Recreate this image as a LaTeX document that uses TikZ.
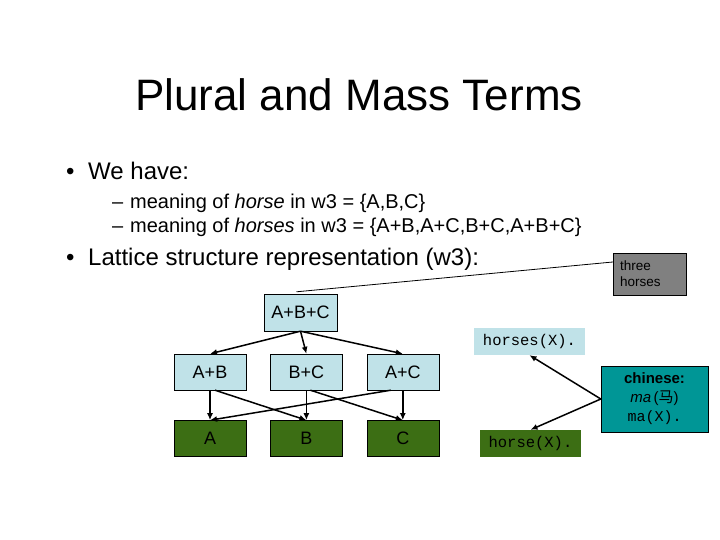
\documentclass[tikz,border=0pt]{standalone}
\usepackage{fontspec}
\setmainfont{Liberation Sans}
\setmonofont{Liberation Mono}
\newfontfamily\cjk{Noto Sans CJK SC}
\usetikzlibrary{arrows.meta,positioning}
\definecolor{latblue}{RGB}{192,226,232}
\definecolor{latgreen}{RGB}{60,110,20}
\definecolor{notegray}{RGB}{128,128,128}
\definecolor{chteal}{RGB}{0,150,150}

\begin{document}
\begin{tikzpicture}[x=1pt,y=-1pt,
  sumbox/.style={draw=black,fill=latblue,minimum width=72pt,minimum height=36pt,inner sep=0pt,font=\fontsize{18}{20}\selectfont},
  atombox/.style={sumbox,fill=latgreen},
  predbox/.style={inner sep=0pt,minimum height=27pt,font=\ttfamily\fontsize{15.5}{17}\selectfont},
  bodytext/.style={anchor=base west,inner sep=0pt},
  arr/.style={-{Latex[length=7pt,width=6pt]},line width=1.5pt}
]
\useasboundingbox (0,0) rectangle (720,540);

% title and bullets
\node[inner sep=0pt,font=\fontsize{44}{48}\selectfont] (title) at (359,95) {Plural and Mass Terms};
\node[bodytext,font=\fontsize{24}{28}\selectfont] (dot1) at (66,180) {\textbullet};
\node[bodytext,font=\fontsize{24}{28}\selectfont] (have) at (88,180) {We have:};
\node[bodytext,font=\fontsize{20}{24}\selectfont] (dash1) at (112,209) {--};
\node[bodytext,font=\fontsize{20}{24}\selectfont] (sing) at (130,209) {meaning of \textit{horse} in w3 = \{A,B,C\}};
\node[bodytext,font=\fontsize{20}{24}\selectfont] (dash2) at (112,233) {--};
\node[bodytext,font=\fontsize{20}{24}\selectfont] (plur) at (130,233) {meaning of \textit{horses} in w3 = \{A+B,A+C,B+C,A+B+C\}};
\node[bodytext,font=\fontsize{24}{28}\selectfont] (dot2) at (66,265) {\textbullet};
\node[bodytext,font=\fontsize{24}{28}\selectfont] (lat) at (88,265) {Lattice structure representation (w3):};

% lattice
\node[sumbox,minimum width=73pt,minimum height=37pt] (abc) at (300.5,312.5) {A+B+C};
\node[sumbox] (ab) at (210,372) {A+B};
\node[sumbox,right=24pt of ab] (bc) {B+C};
\node[sumbox,right=24pt of bc] (ac) {A+C};
\node[atombox,below=30pt of ab] (a) {A};
\node[atombox,below=30pt of bc] (b) {B};
\node[atombox,below=30pt of ac] (c) {C};

\draw[arr] (abc.south) -- (ab.north);
\draw[arr] (abc.south) -- (bc.north);
\draw[arr] (abc.south) -- (ac.north);
\draw[arr] (ab.south) -- (a.north);
\draw[arr] ([xshift=5pt]ab.south) -- (b.north);
\draw[arr] (bc.south) -- (b.north);
\draw[arr] ([xshift=4pt]bc.south) -- (c.north);
\draw[arr] ([xshift=-12pt]ac.south) -- (a.north);
\draw[arr] (ac.south) -- (c.north);

% predicates and notes
\node[predbox,fill=latblue,minimum width=111pt] (horses) at (529.5,341.5) {horses(X).};
\node[predbox,fill=latgreen,minimum width=101pt] (horse) at (530.5,443.5) {horse(X).};
\node[draw=black,fill=notegray,minimum width=73pt,minimum height=42pt,inner xsep=7pt,
  text width=59pt,align=left,font=\fontsize{13.5}{16}\selectfont] (three) at (649.5,274) {three\\horses};
\node[draw=black,fill=chteal,minimum width=107pt,minimum height=66pt,inner sep=2pt,
  align=center,font=\fontsize{15}{19}\selectfont] (chinese) at (654.5,399)
  {\textbf{chinese:}\\\textit{ma}\,({\cjk 马})\\\texttt{ma(X).}};

\draw[line width=0.8pt] ([yshift=12pt]three.west) -- ([xshift=-4pt,yshift=2pt]abc.north);
\draw[arr] (chinese.west) -- (horses.south);
\draw[arr] (chinese.west) -- (horse.north);
\end{tikzpicture}
\end{document}
